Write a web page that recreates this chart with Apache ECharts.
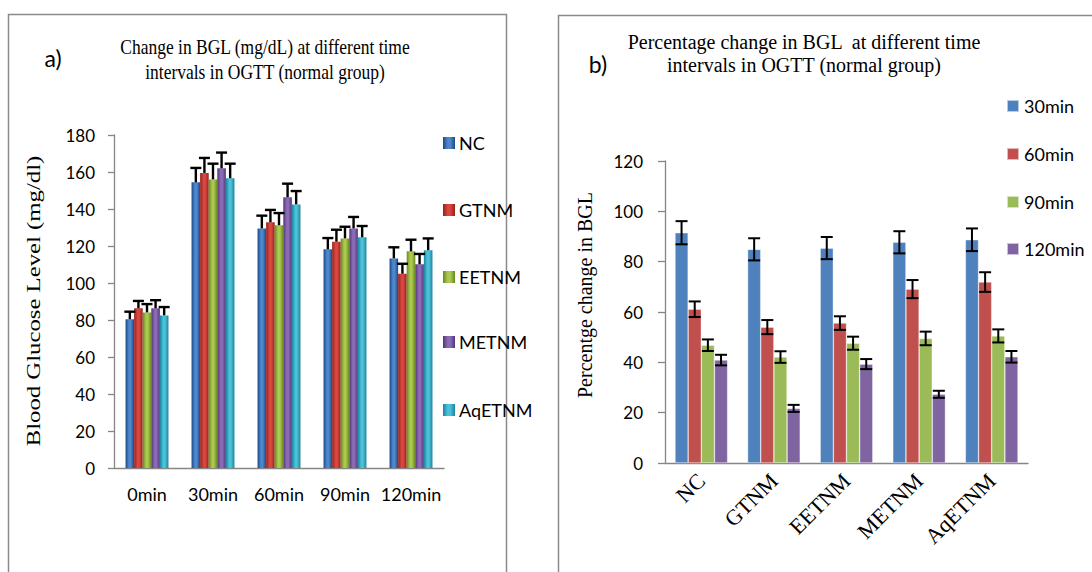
<!DOCTYPE html>
<html>
<head>
<meta charset="utf-8">
<script src="https://cdn.jsdelivr.net/npm/echarts@6/dist/echarts.min.js"></script>
<style>
html,body{margin:0;padding:0;background:#fff;}
#chart{width:1092px;height:572px;}
</style>
</head>
<body>
<div id="chart"></div>
<script>
// ---- Panel a) data ----
const timeCats = ['0min', '30min', '60min', '90min', '120min'];
const groupNames = ['NC', 'GTNM', 'EETNM', 'METNM', 'AqETNM'];
const bglNC     = [80.4, 154.4, 129.5, 118.2, 113.3];
const bglGTNM   = [86.3, 159.5, 132.8, 122.3, 105.0];
const bglEETNM  = [84.1, 156.0, 131.2, 124.1, 117.1];
const bglMETNM  = [86.3, 162.0, 146.3, 129.5, 110.1];
const bglAqETNM = [82.5, 156.6, 142.5, 124.7, 117.7];
const errNC     = [4.1, 7.8, 6.9, 6.1, 6.0];
const errGTNM   = [4.0, 8.1, 6.7, 6.5, 5.4];
const errEETNM  = [4.5, 8.5, 6.6, 6.3, 6.3];
const errMETNM  = [4.4, 8.5, 7.4, 6.2, 5.6];
const errAqETNM = [4.5, 7.9, 7.2, 6.1, 6.4];
const leftTicks = [0, 20, 40, 60, 80, 100, 120, 140, 160, 180];

// ---- Panel b) data ----
const groupCats = ['NC', 'GTNM', 'EETNM', 'METNM', 'AqETNM'];
const timeNames = ['30min', '60min', '90min', '120min'];
const pct30  = [91.5, 84.9, 85.4, 87.7, 88.7];
const pct60  = [61.1, 54.0, 55.6, 69.1, 71.9];
const pct90  = [46.8, 42.1, 47.6, 49.5, 50.5];
const pct120 = [40.9, 21.7, 39.3, 27.3, 42.2];
const err30  = [4.6, 4.4, 4.4, 4.4, 4.5];
const err60  = [3.1, 2.8, 2.7, 3.6, 3.9];
const err90  = [2.3, 2.3, 2.6, 2.7, 2.6];
const err120 = [2.1, 1.4, 2.0, 1.4, 2.3];
const rightTicks = [0, 20, 40, 60, 80, 100, 120];

const leftVals = [bglNC, bglGTNM, bglEETNM, bglMETNM, bglAqETNM];
const leftErrs = [errNC, errGTNM, errEETNM, errMETNM, errAqETNM];
const rightVals = [pct30, pct60, pct90, pct120];
const rightErrs = [err30, err60, err90, err120];

const leftShades = [
  ['#1b4a85', '#4f86cc'],
  ['#93211d', '#d9473f'],
  ['#67881f', '#acc94f'],
  ['#503676', '#8c6bb6'],
  ['#1b839d', '#4cc1da']
];
const rightColors = ['#4f81bd', '#c0504d', '#9bbb59', '#8064a2'];

function cyl(c) {
  return { type: 'linear', x: 0, y: 0, x2: 1, y2: 0,
    colorStops: [{offset: 0, color: c[0]}, {offset: 0.4, color: c[1]}, {offset: 0.6, color: c[1]}, {offset: 1, color: c[0]}] };
}

const SANS = 'Lato, "Open Sans", sans-serif';
const SERIF = '"Liberation Serif", "DejaVu Serif", serif';
const LGAP = 0.35, RGAP = 0.275;

function errRender(n, gap, upOnly, capHalf, lw) {
  return function (params, api) {
    const cat = api.value(0), si = api.value(1), v = api.value(2), e = api.value(3);
    const c = api.coord([cat, v]);
    const band = api.size([1, 0])[0];
    const gw = band * (1 - gap);
    const bw = gw / n;
    const x = c[0] - gw / 2 + bw * (si + 0.5);
    const yTop = api.coord([cat, v + e])[1];
    const yBot = upOnly ? c[1] : api.coord([cat, v - e])[1];
    const st = { stroke: '#000', lineWidth: lw };
    const children = [
      { type: 'line', shape: { x1: x, y1: yTop, x2: x, y2: yBot }, style: st },
      { type: 'line', shape: { x1: x - capHalf, y1: yTop, x2: x + capHalf, y2: yTop }, style: st }
    ];
    if (!upOnly) children.push({ type: 'line', shape: { x1: x - capHalf, y1: yBot, x2: x + capHalf, y2: yBot }, style: st });
    return { type: 'group', children: children };
  };
}

const leftErrData = [];
leftVals.forEach((arr, si) => arr.forEach((v, ci) => leftErrData.push([ci, si, v, leftErrs[si][ci]])));
const rightErrData = [];
rightVals.forEach((arr, si) => arr.forEach((v, ci) => rightErrData.push([ci, si, v, rightErrs[si][ci]])));

const series = [];
groupNames.forEach((name, i) => {
  series.push({ name: name, type: 'bar', xAxisIndex: 0, yAxisIndex: 0, data: leftVals[i],
    barGap: '0%', barCategoryGap: (LGAP * 100) + '%',
    itemStyle: { color: cyl(leftShades[i]) }, emphasis: { disabled: true } });
});
timeNames.forEach((name, i) => {
  series.push({ name: name, type: 'bar', xAxisIndex: 1, yAxisIndex: 1, data: rightVals[i],
    barGap: '0%', barCategoryGap: (RGAP * 100) + '%',
    itemStyle: { color: rightColors[i], borderColor: 'rgba(255,255,255,0.6)', borderWidth: 0.6 }, emphasis: { disabled: true } });
});
series.push({ name: 'errA', type: 'custom', xAxisIndex: 0, yAxisIndex: 0, z: 5,
  renderItem: errRender(5, LGAP, true, 5.5, 2.4), encode: { x: 0, y: 2 }, data: leftErrData, silent: true });
series.push({ name: 'errB', type: 'custom', xAxisIndex: 1, yAxisIndex: 1, z: 5,
  renderItem: errRender(4, RGAP, false, 6, 2), encode: { x: 0, y: 2 }, data: rightErrData, silent: true });

const leftLegendY = [143, 210, 277, 342, 410];
const rightLegendY = [105, 153, 201, 248];
const legends = [];
groupNames.forEach((name, i) => legends.push({ data: [name], left: 438, top: leftLegendY[i] - 14, orient: 'vertical',
  icon: 'rect', itemWidth: 12, itemHeight: 12, itemGap: 4, textStyle: { fontFamily: SANS, fontSize: 18, color: '#000', padding: [0, 0, 0, -1] }, selectedMode: false }));
timeNames.forEach((name, i) => legends.push({ data: [name], left: 1001, top: rightLegendY[i] - 13, orient: 'vertical',
  icon: 'rect', itemWidth: 12, itemHeight: 12, itemGap: 4, textStyle: { fontFamily: SANS, fontSize: 18, color: '#000', padding: [0, 0, 0, 0] }, selectedMode: false }));

const axisGray = '#868686';
const option = {
  animation: false,
  backgroundColor: '#fff',
  legend: legends,
  grid: [
    { left: 114, top: 135, right: 648, bottom: 104 },
    { left: 665, top: 161, right: 64, bottom: 109 }
  ],
  xAxis: [
    { type: 'category', gridIndex: 0, data: timeCats,
      axisLine: { lineStyle: { color: axisGray, width: 1.3 } }, axisTick: { show: false },
      axisLabel: { fontFamily: SANS, fontSize: 18, color: '#000', margin: 17, interval: 0 } },
    { type: 'category', gridIndex: 1, data: groupCats,
      axisLine: { lineStyle: { color: axisGray, width: 1.3 } }, axisTick: { show: false },
      axisLabel: { fontFamily: SERIF, fontSize: 22, color: '#000', margin: 14, rotate: 45, interval: 0 } }
  ],
  yAxis: [
    { type: 'value', gridIndex: 0, min: leftTicks[0], max: leftTicks[leftTicks.length - 1], interval: leftTicks[1] - leftTicks[0],
      axisLine: { show: true, lineStyle: { color: axisGray, width: 1.3 } },
      axisTick: { show: true, length: 6, lineStyle: { color: axisGray, width: 1.3 } },
      splitLine: { show: false },
      axisLabel: { fontFamily: SANS, fontSize: 17, color: '#000', margin: 19 } },
    { type: 'value', gridIndex: 1, min: rightTicks[0], max: rightTicks[rightTicks.length - 1], interval: rightTicks[1] - rightTicks[0],
      axisLine: { show: true, lineStyle: { color: axisGray, width: 1.3 } },
      axisTick: { show: true, length: 7, lineStyle: { color: axisGray, width: 1.3 } },
      splitLine: { show: false },
      axisLabel: { fontFamily: SANS, fontSize: 17, color: '#000', margin: 22 } }
  ],
  graphic: [
    { type: 'rect', z: -10, shape: { x: 8.5, y: 14.5, width: 498, height: 620 }, style: { fill: 'none', stroke: '#8a8a8a', lineWidth: 1.5 } },
    { type: 'rect', z: -10, shape: { x: 558.5, y: 15.5, width: 600, height: 620 }, style: { fill: 'none', stroke: '#8a8a8a', lineWidth: 1.5 } },
    { type: 'text', x: 265, y: 59.5, scaleY: 1.18, style: { text: 'Change in BGL (mg/dL) at different time\nintervals in OGTT (normal group)',
      font: '17.5px ' + SERIF, align: 'center', verticalAlign: 'middle', textAlign: 'center', textVerticalAlign: 'middle', lineHeight: 21.5, fill: '#000' } },
    { type: 'text', x: 804, y: 53.5, style: { text: 'Percentage change in BGL  at different time\nintervals in OGTT (normal group)',
      font: '20px ' + SERIF, align: 'center', verticalAlign: 'middle', textAlign: 'center', textVerticalAlign: 'middle', lineHeight: 23.5, fill: '#000' } },
    { type: 'text', x: 53, y: 58, style: { text: 'a)', font: '23px ' + SANS, align: 'center', verticalAlign: 'middle', textAlign: 'center', textVerticalAlign: 'middle', fill: '#000' } },
    { type: 'text', x: 598, y: 64, style: { text: 'b)', font: '23px ' + SANS, align: 'center', verticalAlign: 'middle', textAlign: 'center', textVerticalAlign: 'middle', fill: '#000' } },
    { type: 'text', x: 33, y: 301, rotation: Math.PI / 2, scaleX: 1.27, style: { text: 'Blood Glucose Level (mg/dl)', font: '19.5px ' + SERIF,
      align: 'center', verticalAlign: 'middle', textAlign: 'center', textVerticalAlign: 'middle', fill: '#000' } },
    { type: 'text', x: 585, y: 295, rotation: Math.PI / 2, style: { text: 'Percentge change in BGL', font: '20px ' + SERIF,
      align: 'center', verticalAlign: 'middle', textAlign: 'center', textVerticalAlign: 'middle', fill: '#000' } }
  ],
  series: series
};

const chart = echarts.init(document.getElementById('chart'), null, { renderer: 'svg' });
chart.setOption(option);
</script>
</body>
</html>
